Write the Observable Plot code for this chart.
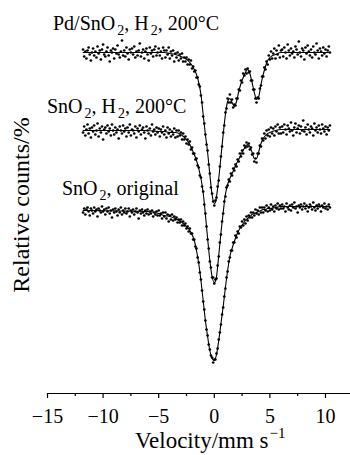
<!DOCTYPE html>
<html><head><meta charset="utf-8">
<script src="https://cdn.jsdelivr.net/npm/d3@7"></script>
<script src="https://cdn.jsdelivr.net/npm/@observablehq/plot@0.6"></script>
<style>
html,body{margin:0;padding:0;background:#fff;}
#chart{width:350px;height:455px;overflow:hidden;}
</style></head><body><div id="chart"></div>
<script>
// Doppler velocity channels, mm/s
const velocity = [-11.8,-11.7,-11.6,-11.5,-11.4,-11.3,-11.2,-11.1,-11,-10.9,-10.8,-10.7,-10.6,-10.5,-10.4,-10.3,-10.2,-10.1,-10,-9.9,-9.8,-9.7,-9.6,-9.5,-9.4,-9.3,-9.2,-9.1,-9,-8.9,-8.8,-8.7,-8.6,-8.5,-8.4,-8.3,-8.2,-8.1,-8,-7.9,-7.8,-7.7,-7.6,-7.5,-7.4,-7.3,-7.2,-7.1,-7,-6.9,-6.8,-6.7,-6.6,-6.5,-6.4,-6.3,-6.2,-6.1,-6,-5.9,-5.8,-5.7,-5.6,-5.5,-5.4,-5.3,-5.2,-5.1,-5,-4.9,-4.8,-4.7,-4.6,-4.5,-4.4,-4.3,-4.2,-4.1,-4,-3.9,-3.8,-3.7,-3.6,-3.5,-3.4,-3.3,-3.2,-3.1,-3,-2.9,-2.8,-2.7,-2.6,-2.5,-2.4,-2.3,-2.2,-2.1,-2,-1.9,-1.8,-1.7,-1.6,-1.5,-1.4,-1.3,-1.2,-1.1,-1,-0.9,-0.8,-0.7,-0.6,-0.5,-0.4,-0.3,-0.2,-0.1,0,0.1,0.2,0.3,0.4,0.5,0.6,0.7,0.8,0.9,1,1.1,1.2,1.3,1.4,1.5,1.6,1.7,1.8,1.9,2,2.1,2.2,2.3,2.4,2.5,2.6,2.7,2.8,2.9,3,3.1,3.2,3.3,3.4,3.5,3.6,3.7,3.8,3.9,4,4.1,4.2,4.3,4.4,4.5,4.6,4.7,4.8,4.9,5,5.1,5.2,5.3,5.4,5.5,5.6,5.7,5.8,5.9,6,6.1,6.2,6.3,6.4,6.5,6.6,6.7,6.8,6.9,7,7.1,7.2,7.3,7.4,7.5,7.6,7.7,7.8,7.9,8,8.1,8.2,8.3,8.4,8.5,8.6,8.7,8.8,8.9,9,9.1,9.2,9.3,9.4,9.5,9.6,9.7,9.8,9.9,10,10.1,10.2,10.3,10.4];

// Relative counts, % (Pd/SnO2, H2, 200°C)
const countsPd = [
100.3,99.6,100.1,99.4,100.2,100.5,99.8,99.2,100.0,100.4,
99.7,100.1,99.5,100.6,99.9,100.2,99.3,100.3,100.8,99.8,
99.6,100.1,100.5,99.7,99.1,100.2,100.0,100.4,99.4,100.3,
99.9,100.7,99.8,99.5,100.1,101.2,99.7,100.2,99.6,100.5,
99.9,99.3,100.3,100.0,100.4,99.8,100.6,99.5,100.1,99.7,
100.2,100.9,99.6,100.0,100.3,99.4,100.1,100.4,99.8,99.2,
100.5,99.9,100.2,99.6,100.3,100.6,99.7,100.0,
100.4,99.7,100.1,99.4,100.5,100.2,99.5,100.2,99.8,100.5,
99.4,100.1,99.7,100.2,99.1,99.9,99.5,100.0,99.2,99.8,
99.4,99.9,99.1,99.5,99.1,99.5,98.8,99.3,98.8,99.2,
98.4,98.6,98.1,98.2,97.5,97.5,96.8,96.6,95.7,95.0,
93.6,92.9,91.8,90.8,90.2,88.8,87.9,86.5,85.9,85.1,
84.7,85.2,85.5,86.6,87.2,88.6,89.6,90.6,92.0,92.7,
94.0,94.4,95.4,95.0,95.8,95.0,95.3,94.5,94.8,94.7,
95.4,95.4,96.3,96.2,97.2,97.0,97.9,97.7,98.3,97.9,
98.4,98.0,98.1,97.2,97.2,96.3,96.3,95.4,95.0,95.5,
95.4,96.4,96.7,97.6,97.6,98.5,98.3,99.1,98.8,99.7,
99.3,100.1,99.4,99.9,100.4,99.4,100.2,99.8,100.7,99.5,
100.2,
100.3,99.6,100.5,100.0,99.4,100.8,100.2,99.7,100.4,99.9,
100.1,99.5,100.6,100.3,99.8,101.1,100.0,99.6,100.4,100.2,
99.3,100.5,99.9,100.7,100.1,99.7,100.3,99.5,100.6,100.0,
99.8,100.9,100.2,99.4,100.4,100.1,99.7,100.5,99.9,100.3,
99.6,100.2,100.6,100.0];

// Relative counts, % (SnO2, H2, 200°C)
const countsH2 = [
99.8,100.4,99.5,100.1,100.6,99.7,100.2,99.3,100.3,99.9,
100.5,99.6,100.0,100.7,99.4,100.2,99.8,100.4,99.1,100.1,
100.3,99.7,100.5,99.9,100.2,99.5,100.6,100.0,99.6,100.3,
99.8,100.1,99.2,100.4,100.0,99.7,100.5,99.9,100.2,99.4,
100.3,99.8,100.6,99.5,100.1,100.0,99.7,100.4,99.3,100.2,
99.9,100.5,99.6,100.1,100.3,99.8,99.2,100.4,100.0,99.7,
100.2,99.5,100.6,99.9,100.1,99.6,100.3,99.8,
100.2,99.4,100.1,99.8,100.4,99.6,100.0,99.3,100.3,99.7,
100.1,99.4,99.9,99.6,100.2,99.3,100.0,99.4,100.0,99.5,
99.8,99.1,99.7,99.1,99.4,98.7,99.1,98.6,98.9,98.1,
98.3,97.7,97.7,97.1,97.2,96.5,96.3,95.5,95.3,94.4,
93.9,92.6,91.7,90.4,89.1,88.2,86.9,86.3,85.3,85.3,
84.7,85.1,85.2,86.5,87.4,88.8,89.6,90.9,91.7,92.9,
93.4,94.3,94.5,95.1,94.9,95.7,95.5,96.2,96.0,96.6,
96.4,97.1,96.9,97.7,97.4,98.0,97.7,98.5,98.3,98.8,
98.4,98.7,98.1,98.3,97.6,97.7,96.9,97.2,96.8,97.7,
97.7,98.5,98.4,99.2,99.0,99.7,99.2,100.0,99.5,100.1,
99.4,100.3,99.7,100.2,99.5,100.4,99.9,100.6,99.7,100.3,
99.7,
100.4,99.8,100.6,100.1,99.6,100.5,100.2,99.9,100.8,100.0,
99.5,100.3,100.7,99.8,100.2,100.5,99.7,100.4,100.0,101.0,
99.9,100.3,99.6,100.6,100.1,99.8,100.4,100.2,99.5,100.7,
100.0,100.3,99.8,100.5,100.1,99.7,100.6,100.2,99.9,100.4,
99.6,100.3,100.0,100.5];

// Relative counts, % (SnO2, original)
const countsOrig = [
99.8,100.2,99.6,100.1,100.3,99.9,99.5,100.2,100.0,99.7,
100.3,99.9,100.1,99.4,100.2,100.0,99.8,100.4,99.9,100.1,
99.6,100.2,99.9,100.3,99.7,100.0,99.3,100.1,99.8,100.2,
99.9,99.5,100.1,99.8,100.3,99.6,100.0,99.8,100.2,99.7,
99.9,100.2,99.4,100.0,99.8,100.1,99.6,99.9,100.2,99.8,
99.2,100.0,99.7,100.1,99.8,99.5,100.0,99.7,100.1,99.6,
99.9,99.7,100.0,99.4,99.8,99.6,99.9,99.5,
100.0,99.5,99.7,99.2,99.8,99.4,99.8,99.2,99.6,98.9,
99.5,99.1,99.6,99.0,99.4,99.1,99.3,98.8,99.1,98.8,
99.1,98.5,98.9,98.5,98.7,98.2,98.4,97.9,98.2,97.7,
97.7,97.1,97.1,96.4,96.2,95.3,94.8,93.8,93.1,92.0,
90.9,90.1,89.0,88.1,87.5,86.6,86.1,85.5,85.3,84.8,
85.1,85.1,85.7,86.2,87.1,87.8,88.6,89.6,90.3,91.4,
92.2,93.3,93.9,94.9,95.3,96.0,96.0,96.8,96.8,97.5,
97.3,97.9,97.7,98.4,98.3,98.9,98.5,99.1,98.7,99.4,
99.0,99.5,99.3,99.8,99.3,99.8,99.5,100.1,99.7,100.0,
99.6,100.3,99.8,100.3,99.8,100.3,100.0,100.5,99.9,100.3,
100.0,100.6,100.1,100.4,99.9,100.5,100.2,100.7,100.1,100.5,
100.2,
100.6,100.2,100.4,99.9,100.7,100.3,100.1,100.5,100.0,100.6,
100.3,100.8,100.2,100.4,99.8,100.5,100.3,100.6,100.1,100.4,
100.7,100.2,100.5,99.9,100.3,100.6,100.4,100.1,100.8,100.3,
100.0,100.5,100.2,100.6,100.4,99.9,100.5,100.3,100.7,100.2,
100.4,100.1,100.6,100.3];

// Fitted envelopes
const fitVelocity = [-11.8,-6,-5,-4.5,-4,-3.5,-3,-2.6,-2.2,-2,-1.8,-1.6,-1.4,-1.2,-1,-0.8,-0.6,-0.4,-0.2,0,0.1,0.2,0.4,0.6,0.8,1,1.2,1.4,1.6,1.8,2,2.2,2.4,2.6,2.8,3,3.2,3.4,3.6,3.8,4,4.2,4.4,4.6,4.8,5,5.5,6,8,10.4];
const fitPd = [100.0,100.0,100.0,100.0,99.9,99.8,99.6,99.4,99.0,98.7,98.3,97.8,97.0,95.8,93.8,91.8,90.0,87.8,85.8,84.9,85.0,85.6,87.4,89.6,91.8,93.8,95.1,95.4,95.0,94.6,95.1,96.1,96.9,97.5,98.0,98.3,97.9,97.0,96.0,95.3,95.6,96.8,97.8,98.6,99.2,99.5,99.8,100.0,100.0,100.0];
const fitH2 = [100.0,100.0,99.9,99.9,99.8,99.8,99.6,99.2,98.6,98.1,97.6,97.0,96.2,95.2,93.8,91.6,89.2,87.0,85.4,84.8,84.9,85.4,87.5,89.8,91.8,93.6,94.6,95.2,95.7,96.2,96.7,97.1,97.6,98.0,98.4,98.6,98.4,97.8,97.2,97.2,97.9,98.7,99.2,99.5,99.7,99.8,100.0,100.1,100.1,100.1];
const fitOrig = [100.0,99.9,99.7,99.5,99.4,99.2,98.9,98.5,98.0,97.6,97.0,96.0,94.7,93.0,91.0,89.0,87.4,86.0,85.2,85.0,85.2,85.6,87.0,88.7,90.4,92.3,94.0,95.4,96.2,96.9,97.5,98.0,98.4,98.7,99.0,99.2,99.4,99.6,99.7,99.8,99.9,100.0,100.1,100.1,100.2,100.2,100.3,100.4,100.4,100.4];

// Vertical stacking of the three spectra (%)
const seriesOffset = [15.8, 8.0, 0];
const seriesLabels = [
  [["Pd/SnO", false], ["2", true], [", H", false], ["2", true], [", 200°C", false]],
  [["SnO", false], ["2", true], [", H", false], ["2", true], [", 200°C", false]],
  [["SnO", false], ["2", true], [", original", false]]
];
const majorTicks = [-15, -10, -5, 0, 5, 10];
const minorTicks = [-12.5, -7.5, -2.5, 2.5, 7.5];
const xTitle = "Velocity/mm s";
const xTitleSup = "\u22121";
const yTitle = "Relative counts/%";

const countsAll = [countsPd, countsH2, countsOrig];
const fitsAll = [fitPd, fitH2, fitOrig];
countsAll.forEach((a, i) => { if (a.length !== velocity.length) throw new Error("counts " + i + " length " + a.length + " vs " + velocity.length); });
fitsAll.forEach((a, i) => { if (a.length !== fitVelocity.length) throw new Error("fit " + i + " length " + a.length + " vs " + fitVelocity.length); });

const points = countsAll.flatMap((arr, s) => arr.map((c, i) => ({v: velocity[i], c, s})));
const fitRows = fitsAll.flatMap((arr, s) => arr.map((c, i) => ({v: fitVelocity[i], c, s})));

const serif = "'Liberation Serif', 'Times New Roman', serif";
const fmt = d => (d < 0 ? "\u2212" + Math.abs(d) : String(d));

const plot = Plot.plot({
  width: 350, height: 455,
  marginLeft: 47, marginRight: 0, marginTop: 0, marginBottom: 62,
  style: {fontFamily: serif, fontSize: "20px", background: "white", color: "black", overflow: "visible"},
  x: {domain: [-15, 12.25]},
  y: {domain: [81.7, 121], axis: null},
  marks: [
    Plot.frame({anchor: "bottom", stroke: "black", strokeWidth: 1.2}),
    Plot.axisX({ticks: majorTicks, tickSize: 5, tickPadding: 10, tickFormat: fmt, label: null, fontSize: 20, strokeWidth: 1.2}),
    Plot.axisX({ticks: minorTicks, tickSize: 3, tickFormat: () => "", label: null, strokeWidth: 1.2}),
    Plot.line(fitRows, {x: "v", y: d => d.c + seriesOffset[d.s], z: "s", stroke: "black", strokeWidth: 1.1, curve: "monotone-x"}),
    Plot.dot(points, {x: "v", y: d => d.c + seriesOffset[d.s], r: 1.35, fill: "black"})
  ]
});

const svg = d3.select(plot);
function chemLabel(parts, x, y) {
  const t = svg.append("text").attr("x", x).attr("y", y).attr("text-anchor", "start")
    .attr("font-family", serif).attr("font-size", 20).attr("fill", "black");
  let sub = false;
  parts.forEach(([s, isSub]) => {
    const ts = t.append("tspan").text(s);
    if (isSub && !sub) { ts.attr("font-size", 14).attr("dy", 5).attr("dx", 2); sub = true; }
    else if (!isSub && sub) { ts.attr("font-size", 20).attr("dy", -5); sub = false; }
    else ts.attr("font-size", isSub ? 14 : 20);
  });
}
const labelPos = [[53, 30], [47, 113], [62, 195]];
seriesLabels.forEach((p, i) => chemLabel(p, labelPos[i][0], labelPos[i][1]));

const xt = svg.append("text").attr("x", 135).attr("y", 448).attr("text-anchor", "start")
  .attr("font-family", serif).attr("font-size", 23).attr("fill", "black");
xt.append("tspan").text(xTitle);
xt.append("tspan").attr("font-size", 15).attr("dy", -10).attr("dx", 1).text(xTitleSup);

svg.append("text").attr("transform", "translate(29,205) rotate(-90)")
  .attr("text-anchor", "middle").attr("font-family", serif).attr("font-size", 24)
  .attr("fill", "black").text(yTitle);

document.getElementById("chart").appendChild(plot);
</script>
</body></html>
